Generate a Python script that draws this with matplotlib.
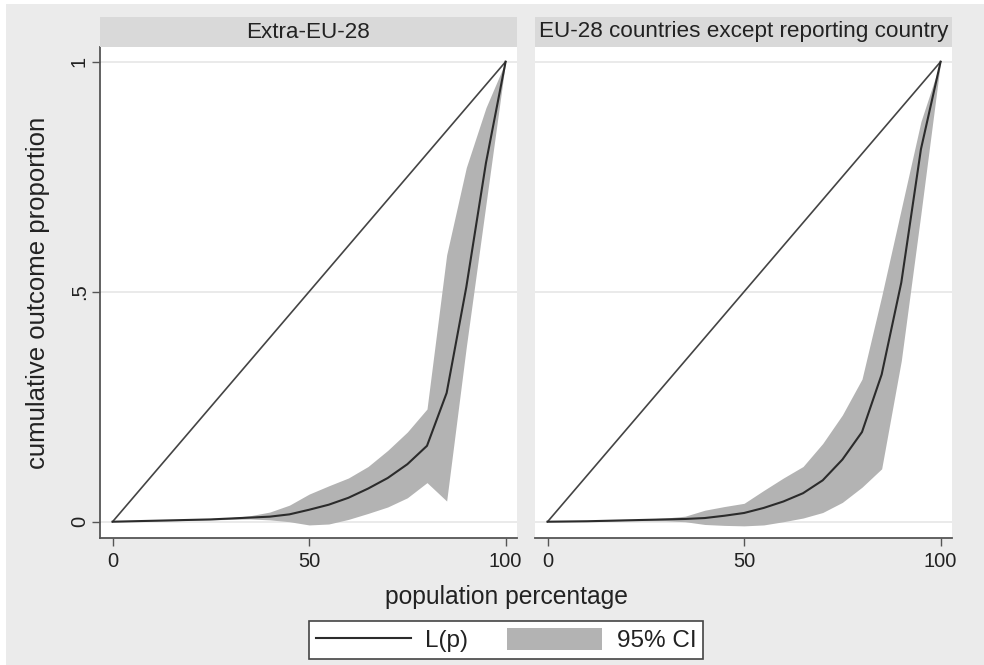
import matplotlib
matplotlib.use("Agg")
import matplotlib.pyplot as plt
from matplotlib.lines import Line2D
from matplotlib.patches import Patch, Rectangle

plt.rcParams['font.family'] = ['Liberation Sans', 'DejaVu Sans']

# population percentage (x) at which the curves are evaluated
p = [0, 5, 10, 15, 20, 25, 30, 35, 40, 45, 50, 55, 60, 65, 70, 75, 80, 85, 90, 95, 100]

# Extra-EU-28
lp_extra = [0, 0.001, 0.002, 0.003, 0.004, 0.005, 0.007, 0.009, 0.011, 0.016, 0.026,
            0.037, 0.052, 0.072, 0.095, 0.125, 0.165, 0.28, 0.51, 0.78, 1]
lo_extra = [0, 0.0005, 0.001, 0.002, 0.003, 0.004, 0.005, 0.006, 0.004, 0.0, -0.007,
            -0.005, 0.005, 0.018, 0.032, 0.052, 0.085, 0.045, 0.38, 0.69, 1]
hi_extra = [0, 0.0015, 0.003, 0.004, 0.005, 0.007, 0.009, 0.013, 0.021, 0.036, 0.06,
            0.078, 0.095, 0.12, 0.155, 0.195, 0.245, 0.58, 0.77, 0.90, 1]

# EU-28 countries except reporting country
lp_eu = [0, 0.0005, 0.001, 0.002, 0.003, 0.004, 0.005, 0.006, 0.008, 0.013, 0.019,
         0.03, 0.044, 0.062, 0.09, 0.135, 0.195, 0.32, 0.52, 0.81, 1]
lo_eu = [0, 0.0003, 0.0006, 0.001, 0.002, 0.002, 0.002, 0.0, -0.006, -0.008, -0.009,
         -0.007, 0.0, 0.008, 0.02, 0.042, 0.075, 0.115, 0.35, 0.67, 1]
hi_eu = [0, 0.001, 0.002, 0.003, 0.004, 0.006, 0.008, 0.012, 0.025, 0.033, 0.04,
         0.068, 0.095, 0.12, 0.17, 0.232, 0.31, 0.49, 0.68, 0.87, 1]

# line of equality
eq_x = [0, 100]
eq_y = [0, 1]

titles = ["Extra-EU-28", "EU-28 countries except reporting country"]
panels = [(lp_extra, lo_extra, hi_extra), (lp_eu, lo_eu, hi_eu)]

W, H = 984, 665
bg = '#ebebeb'
band_col = '#b3b3b3'
line_col = '#2b2b2b'
txt_col = '#222222'

fig = plt.figure(figsize=(W / 100, H / 100), dpi=100)
fig.patch.set_facecolor('white')
fig.patches.append(Rectangle((6 / W, 0), 1 - 6 / W, 1 - 4 / H, transform=fig.transFigure,
                             facecolor=bg, edgecolor='none', zorder=-10))

lefts = [100, 535]
width = 417
for i, (lp, lo, hi) in enumerate(panels):
    ax = fig.add_axes([lefts[i] / W, 1 - 538 / H, width / W, (538 - 47) / H])
    ax.set_facecolor('white')
    ax.fill_between(p, lo, hi, color=band_col, linewidth=0, zorder=2)
    ax.plot(eq_x, eq_y, color='#444444', lw=1.2, zorder=3)
    ax.plot(p, lp, color=line_col, lw=1.5, zorder=4)
    ax.set_xlim(-3.2, 102.9)
    ax.set_ylim(-0.0354, 1.032)
    for y in [0, 0.5, 1]:
        ax.axhline(y, color='#e6e6e6', lw=1.2, zorder=1)
    ax.set_xticks([0, 50, 100])
    ax.set_xticklabels(['0', '50', '100'])
    ax.tick_params(axis='x', length=6, width=1, color='#555555', labelsize=14.5,
                   labelcolor=txt_col, pad=4)
    for s in ['top', 'right']:
        ax.spines[s].set_visible(False)
    ax.spines['bottom'].set_color('#555555')
    ax.spines['bottom'].set_linewidth(1.3)
    if i == 0:
        ax.set_yticks([0, 0.5, 1])
        ax.set_yticklabels(['0', '.5', '1'], rotation=90, va='center')
        ax.tick_params(axis='y', length=6, width=1, color='#555555', labelsize=14.5,
                       labelcolor=txt_col, pad=2)
        ax.spines['left'].set_color('#555555')
        ax.spines['left'].set_linewidth(1.3)
        ax.set_ylabel('cumulative outcome proportion', fontsize=18.5, color=txt_col,
                      labelpad=14)
    else:
        ax.set_yticks([])
        ax.spines['left'].set_visible(False)

    # strip header
    strip = Rectangle((lefts[i] / W, 1 - 47 / H), width / W, 30 / H, transform=fig.transFigure,
                      facecolor='#d9d9d9', edgecolor='none')
    fig.patches.append(strip)
    fig.text((lefts[i] + width / 2) / W, 1 - 32 / H, titles[i], ha='center', va='center',
             fontsize=16.2, color=txt_col)

fig.text(506.5 / W, 1 - 597 / H, 'population percentage', ha='center', va='center',
         fontsize=17.7, color=txt_col)

handles = [Line2D([0], [0], color=line_col, lw=1.5),
           Patch(facecolor=band_col, edgecolor='none')]
leg = fig.legend(handles, ['L(p)', '95% CI'], loc='center', ncol=2,
                 bbox_to_anchor=(506 / W, 1 - 640 / H), fontsize=17.5,
                 handlelength=3.9, handleheight=1.0, handletextpad=0.6,
                 columnspacing=1.6, fancybox=False, framealpha=1,
                 edgecolor='#444444', borderpad=0.3, borderaxespad=0)
leg.get_frame().set_linewidth(1.2)
for t in leg.get_texts():
    t.set_color(txt_col)

fig.savefig('out.png', dpi=100, facecolor=fig.get_facecolor())
